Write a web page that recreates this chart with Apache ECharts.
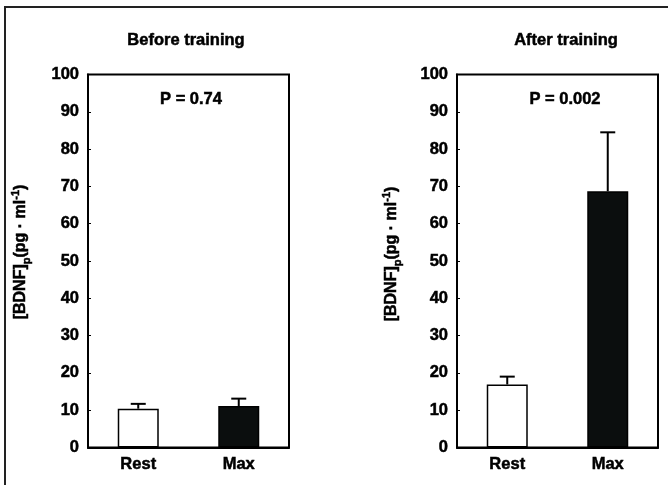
<!DOCTYPE html>
<html>
<head>
<meta charset="utf-8">
<script src="https://cdn.jsdelivr.net/npm/echarts@6/dist/echarts.min.js"></script>
<style>html,body{margin:0;padding:0;background:#fff}#c{width:668px;height:485px}</style>
</head>
<body>
<div id="c"></div>
<script>
const categories = ['Rest', 'Max'];
const panelTitles = ['Before training', 'After training'];
const pValues = ['P = 0.74', 'P = 0.002'];
const beforeMeans = [10.4, 11.1];
const beforeErr = [1.3, 2.0];
const afterMeans = [16.9, 68.7];
const afterErr = [2.1, 15.8];
const yMin = 0, yMax = 100, yInterval = 10;

const FONT = '"Liberation Sans", Arial, sans-serif';
const barColors = ['#ffffff', '#0b0e0e'];
const chart = echarts.init(document.getElementById('c'), null, {renderer: 'canvas'});

const grids = [
  {left: 88, top: 74.5, width: 201, height: 373},
  {left: 457, top: 74.5, width: 201, height: 373}
];
const heavy = {textBorderColor: '#000', textBorderWidth: 0.5};

function xAxis(i) {
  return {
    type: 'category', gridIndex: i, data: categories,
    axisLine: {lineStyle: {color: '#000', width: 2}},
    axisTick: {show: false},
    axisLabel: Object.assign({color: '#000', fontFamily: FONT, fontWeight: 'bold', fontSize: 16.5, margin: 8}, heavy)
  };
}
function yAxis(i) {
  return {
    type: 'value', gridIndex: i, min: yMin, max: yMax, interval: yInterval,
    splitLine: {show: false},
    axisLine: {show: true, lineStyle: {color: '#000', width: 2}},
    axisTick: {show: true, inside: true, length: 3, lineStyle: {color: '#000', width: 1}},
    axisLabel: Object.assign({color: '#000', fontFamily: FONT, fontWeight: 'bold', fontSize: 16.5, margin: 9}, heavy)
  };
}
function barSeries(i, means) {
  return {
    type: 'bar', xAxisIndex: i, yAxisIndex: i, barWidth: 41,
    data: means.map((v, k) => ({value: v, itemStyle: {color: barColors[k], borderColor: '#000', borderWidth: 1.5}})),
    z: 2
  };
}
function errSeries(i, means, errs) {
  return {
    type: 'custom', xAxisIndex: i, yAxisIndex: i, z: 3,
    data: means.map((m, k) => [k, m, errs[k]]),
    renderItem: function (params, api) {
      const x = api.value(0), m = api.value(1), e = api.value(2);
      const p0 = api.coord([x, m]);
      const p1 = api.coord([x, m + e]);
      const hw = 7.5;
      return {
        type: 'group',
        children: [
          {type: 'line', shape: {x1: p0[0], y1: p0[1], x2: p1[0], y2: p1[1]}, style: {stroke: '#000', lineWidth: 2}},
          {type: 'line', shape: {x1: p1[0] - hw, y1: p1[1], x2: p1[0] + hw, y2: p1[1]}, style: {stroke: '#000', lineWidth: 2}}
        ]
      };
    }
  };
}

const baseRich = {fontFamily: FONT, fontWeight: 'bold', lineHeight: 22, fill: '#000', stroke: '#000', lineWidth: 0.5};
const yLabelRich = {
  m: Object.assign({}, baseRich, {fontSize: 16, verticalAlign: 'middle'}),
  sub: Object.assign({}, baseRich, {fontSize: 11, verticalAlign: 'bottom'}),
  sup: Object.assign({}, baseRich, {fontSize: 11, verticalAlign: 'top'})
};
const yLabelText = '{m|[BDNF]}{sub|p}{m|(pg · ml}{sup|-1}{m|)}';

function yLabel(x, y) {
  return {
    type: 'text', x: x, y: y, rotation: Math.PI / 2,
    style: {text: yLabelText, rich: yLabelRich, align: 'center', verticalAlign: 'middle', fill: '#000'}
  };
}
function topText(x, y, t) {
  return {
    type: 'text', x: x, y: y,
    style: {text: t, fontFamily: FONT, fontWeight: 'bold', fontSize: 16.5, fill: '#000', stroke: '#000', lineWidth: 0.5, align: 'center', verticalAlign: 'middle'}
  };
}

chart.setOption({
  backgroundColor: '#fff',
  animation: false,
  grid: grids.map(g => Object.assign({show: true, borderColor: '#000', borderWidth: 2, backgroundColor: 'transparent'}, g)),
  xAxis: [xAxis(0), xAxis(1)],
  yAxis: [yAxis(0), yAxis(1)],
  series: [
    barSeries(0, beforeMeans), errSeries(0, beforeMeans, beforeErr),
    barSeries(1, afterMeans), errSeries(1, afterMeans, afterErr)
  ],
  graphic: [
    {type: 'rect', shape: {x: 5, y: 7, width: 700, height: 520}, style: {fill: 'none', stroke: '#222', lineWidth: 2}},
    topText(186, 40, panelTitles[0]),
    topText(566, 40, panelTitles[1]),
    topText(191, 99, pValues[0]),
    topText(565, 99, pValues[1]),
    yLabel(21, 252),
    yLabel(392, 254)
  ]
});
</script>
</body>
</html>
